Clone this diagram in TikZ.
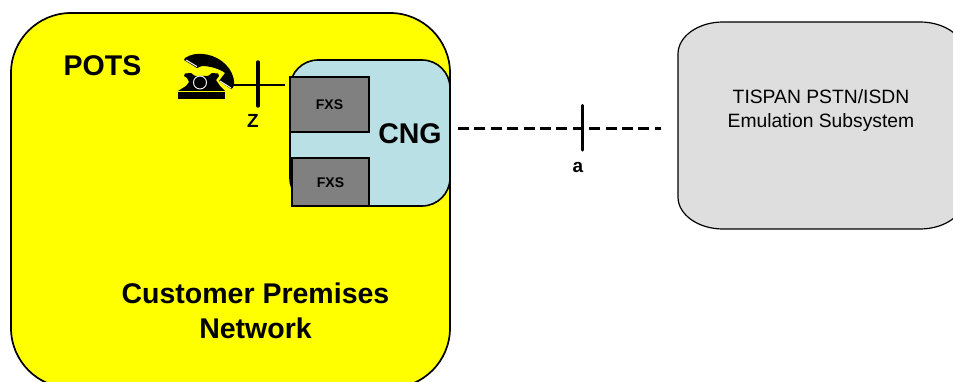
\documentclass[tikz,border=0pt]{standalone}
\usepackage{fontspec}
\setmainfont{Liberation Sans}
\definecolor{cpn}{RGB}{255,255,0}
\definecolor{cngfill}{RGB}{185,224,228}
\definecolor{fxsfill}{RGB}{128,128,128}
\definecolor{ess}{RGB}{222,222,222}
\tikzset{
  lbl/.style={font=\fontsize{28.5}{35}\selectfont\bfseries,align=center,inner sep=0pt},
  tag/.style={font=\fontsize{19}{20}\selectfont\bfseries,inner sep=0pt},
  fxslabel/.style={font=\fontsize{14}{16}\selectfont\bfseries,inner sep=0pt},
  fxsbox/.style={draw=black,fill=fxsfill,line width=1.6pt,inner sep=0pt},
  tick/.style={line width=3.4pt,line cap=round}
}
\begin{document}
\begin{tikzpicture}[x=1pt,y=-1pt]
\useasboundingbox (0,0) rectangle (953,382);
\clip (0,0) rectangle (953,382);
% yellow network
\draw[fill=cpn,line width=1.7pt,rounded corners=60pt] (11,13) rectangle (450,388);
% emulation subsystem
\draw[fill=ess,line width=1.2pt] (723,22) -- (920,22)
  arc[start angle=90,end angle=0,x radius=45pt,y radius=32pt]
  -- (965,197)
  arc[start angle=0,end angle=-90,x radius=45pt,y radius=32pt]
  -- (723,229)
  arc[start angle=270,end angle=180,x radius=45pt,y radius=32pt]
  -- (678,54)
  arc[start angle=180,end angle=90,x radius=45pt,y radius=32pt] -- cycle;
\node[font=\fontsize{19.3}{24}\selectfont,align=center,inner sep=0pt] (ess) at (821,110.5) {TISPAN PSTN/ISDN\\Emulation Subsystem};
% CNG
\draw[fill=cngfill,line width=1.6pt,rounded corners=28pt] (290,60) rectangle (450,206);
\node[lbl] (cng) at (410,134) {CNG};
\node[fxsbox,minimum width=79pt,minimum height=55pt] (fxsa) at (329.5,104.5) {};
\node[fxslabel] at ([yshift=-0.5pt]fxsa.center) {FXS};
\node[fxsbox,minimum width=77pt,minimum height=48pt] (fxsb) at (330.5,182) {};
\node[fxslabel] at ([yshift=-1pt]fxsb.center) {FXS};
% labels
\node[lbl] (pots) at (102.5,66) {POTS};
\node[lbl] (cpnlabel) at (255.5,311) {Customer Premises\\Network};
% phone
\fill (178,92) rectangle (225,99);
\fill (178,91) -- (186,86) -- (189,82) -- (187,78) -- (184,76) -- (185,73.5) -- (191,73) -- (195,76)
      -- (208,76) -- (212,73) -- (218,73.5) -- (219,76) -- (216,80) -- (220,86) -- (225,91) -- cycle;
\draw[white,line width=0.9pt] (200,82.5) circle (6.5pt);
\fill (185,58) .. controls (191,54) and (197,53.5) .. (203,54) .. controls (216,55) and (230,64) .. (233.5,78)
      .. controls (235,84) and (234,88) .. (231,89) -- (219,81) -- (225,73)
      .. controls (220,69) and (210,66) .. (202,66) -- (197,68) -- (184,60) -- cycle;
\draw[white,line width=1pt] (186,60) -- (197,66.5);
\draw[white,line width=1pt] (220,81) -- (231,88);
\coordinate (phone) at (232,85);
\coordinate (zend) at (285,85);
\coordinate (dashstart) at (458,128.5);
\coordinate (dashend) at (661,128.5);
% connectors
\draw[line width=1.4pt] (phone) -- (zend);
\draw[tick] (258,62) -- (258,106);
\node[tag] (z) at (253,121) {Z};
\draw[line width=3.3pt,dash pattern=on 11pt off 5.4pt] (dashstart) -- (dashend);
\draw[tick] (582.5,105.5) -- (582.5,150);
\node[tag] (a) at (578,167) {a};
\end{tikzpicture}
\end{document}
